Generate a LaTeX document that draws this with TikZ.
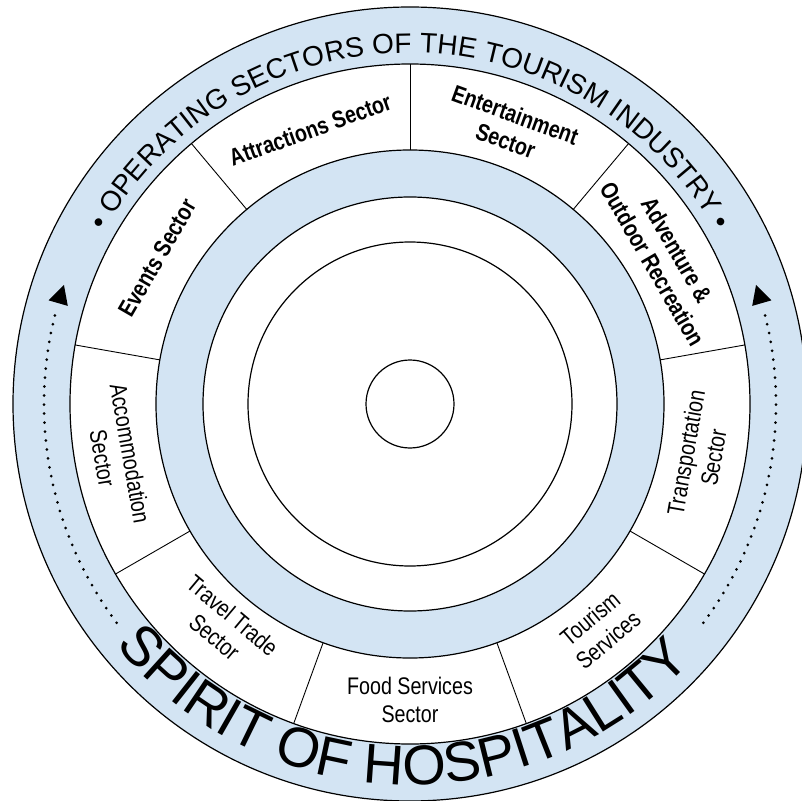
\documentclass[tikz,border=0pt]{standalone}
\usepackage{fontspec}
\setmainfont{Liberation Sans}
\newfontfamily\sectorfont[FakeStretch=0.82]{Liberation Sans}
\newfontfamily\bandfont{Liberation Sans}
\usetikzlibrary{decorations.text}
\definecolor{bandblue}{RGB}{211,228,243}
\tikzset{
  ring/.style={line width=1.2pt},
  divider/.style={line width=0.9pt},
  sector/.style={font=\sectorfont\fontsize{24}{28}\selectfont, align=center, inner sep=0pt},
  boldsector/.style={sector, font=\sectorfont\bfseries\fontsize{24}{28}\selectfont},
  dots/.style={line width=3pt, line cap=round, dash pattern=on 0pt off 9pt},
}

\begin{document}
\begin{tikzpicture}
          \useasboundingbox (-410pt,-396pt) rectangle (392pt,404pt);
          \clip (-410pt,-396pt) rectangle (392pt,404pt);

          % rings
          \filldraw[ring, fill=bandblue] (0,0) circle[radius=397pt];
          \filldraw[ring, fill=white] (0,0) circle[radius=340pt];
          \filldraw[ring, fill=bandblue] (0,0) circle[radius=254pt];
          \filldraw[ring, fill=white] (0,0) circle[radius=207pt];
          \draw[ring] (0,0) circle[radius=162pt];
          \draw[ring] (0,0) circle[radius=44pt];

          % sector dividers
          \draw[divider] (10:254pt) -- (10:340pt);
          \draw[divider] (50:254pt) -- (50:340pt);
          \draw[divider] (90:254pt) -- (90:340pt);
          \draw[divider] (130:254pt) -- (130:340pt);
          \draw[divider] (170:254pt) -- (170:340pt);
          \draw[divider] (210:254pt) -- (210:340pt);
          \draw[divider] (250:254pt) -- (250:340pt);
          \draw[divider] (290:254pt) -- (290:340pt);
          \draw[divider] (330:254pt) -- (330:340pt);

          % sector labels
          \node[boldsector, rotate=-60] (adventure) at (30:294pt) {Adventure \&\\Outdoor Recreation};
          \node[boldsector, rotate=-20] (entertainment) at (70:294pt) {Entertainment\\Sector};
          \node[boldsector, rotate=20] (attractions) at (110:292pt) {Attractions Sector};
          \node[boldsector, rotate=60] (events) at (150:292pt) {Events Sector};
          \node[sector, rotate=-80] (accommodation) at (190:298pt) {Accommodation\\Sector};
          \node[sector, rotate=-40] (traveltrade) at (230:290pt) {Travel Trade\\Sector};
          \node[sector] (foodservices) at (270:296pt) {Food Services\\Sector};
          \node[sector, rotate=40] (tourismservices) at (310:294pt) {Tourism\\Services};
          \node[sector, rotate=80] (transportation) at (350:294pt) {Transportation\\Sector};

          % band texts
          \path[decorate, decoration={text along path, text align=center,
            text format delimiters={|}{|},
            text={|\bandfont\fontsize{28}{30}\selectfont|• OPERATING SECTORS OF THE TOURISM INDUSTRY •}}]
            (160:351pt) arc[start angle=160, end angle=20, radius=351pt];
          \path[decorate, decoration={text along path, text align=center,
            text format delimiters={|}{|},
            text={|\bandfont\fontsize{56}{60}\selectfont|SPIRIT OF HOSPITALITY}}]
            (214:381pt) arc[start angle=214, end angle=323, radius=381pt];

          % dotted arrows
          \draw[dots] (166:366pt) arc[start angle=166, end angle=217, radius=366pt];
          \draw[dots] (14:366pt) arc[start angle=14, end angle=-37, radius=366pt];
          \fill (161:366pt) -- (164:356pt) -- (164:376pt) -- cycle;
          \fill (19:366pt) -- (16:356pt) -- (16:376pt) -- cycle;
        \end{tikzpicture}
\end{document}
